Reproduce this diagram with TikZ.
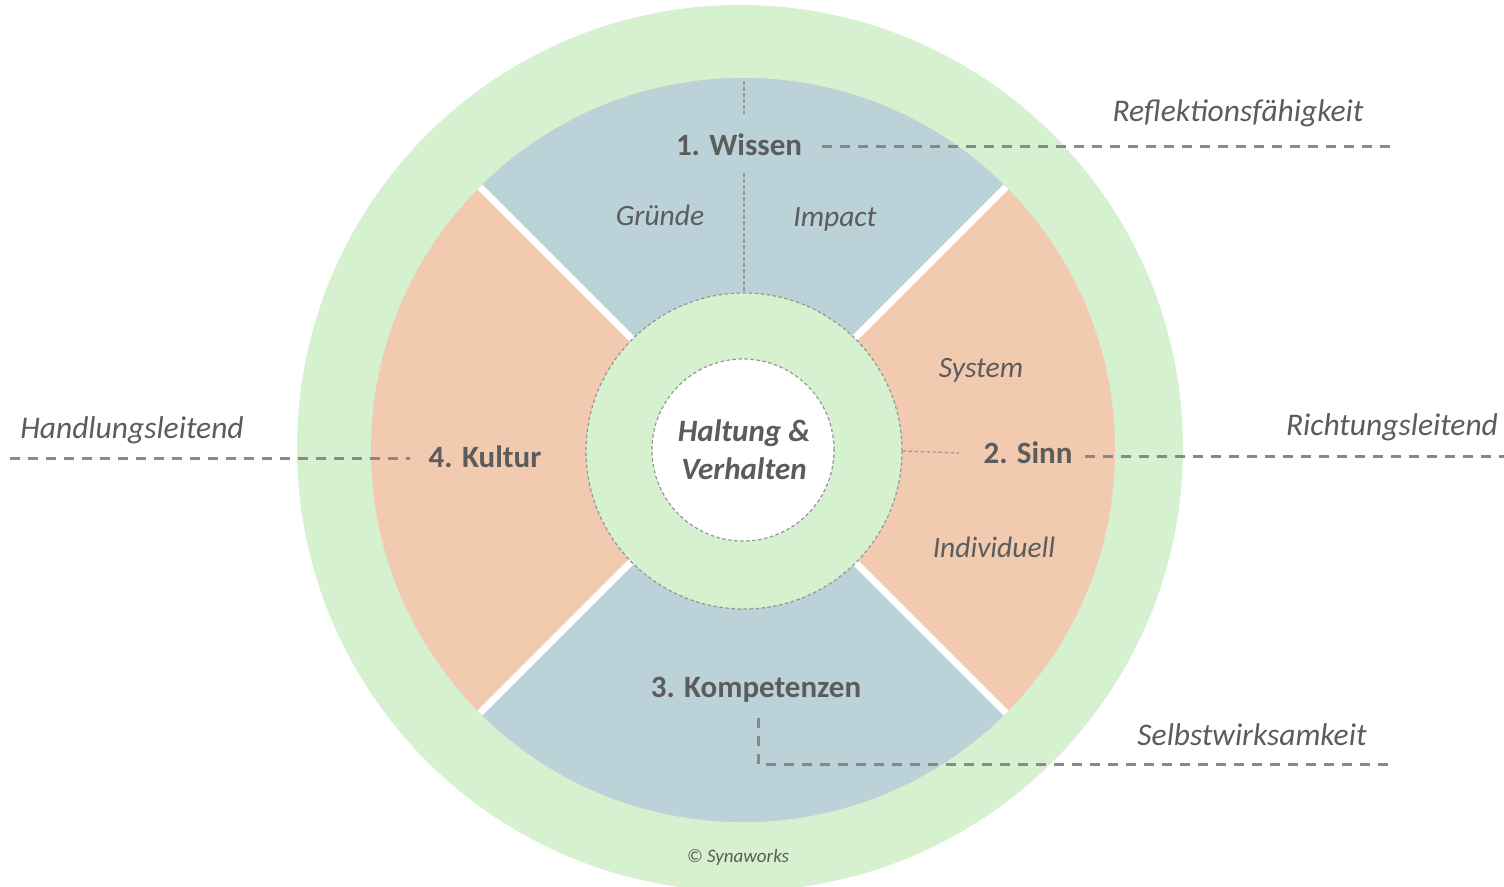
\documentclass[tikz,border=0pt]{standalone}
\usepackage{fontspec}
\setmainfont{Carlito}
\definecolor{ringgreen}{RGB}{213,241,208}
\definecolor{secblue}{RGB}{186,210,216}
\definecolor{secorange}{RGB}{241,202,176}
\definecolor{txt}{RGB}{92,92,92}
\definecolor{lead}{RGB}{137,137,137}
\definecolor{thin}{RGB}{150,150,150}
\begin{document}
\begin{tikzpicture}[x=1pt,y=-1pt,
 head/.style={font=\fontsize{31}{38}\selectfont\bfseries, text=txt, inner sep=0pt},
 sub/.style={font=\fontsize{29.5}{34}\selectfont\itshape, text=txt, inner sep=0pt},
 side/.style={font=\fontsize{31.5}{36}\selectfont\itshape, text=txt, inner sep=0pt},
 leader/.style={draw=lead, line width=3pt, dash pattern=on 10pt off 8pt},
 fine/.style={draw=thin, line width=1.2pt, dash pattern=on 3.5pt off 2.5pt},
]
\useasboundingbox (0,0) rectangle (1504,886);
\clip (0,0) rectangle (1504,886);
\coordinate (c) at (743,450);
% outer ring
\fill[ringgreen] (740,448) circle[radius=443pt];
% sectors
\fill[secorange] (c) circle[radius=372pt];
\begin{scope}
  \clip (c) -- +(-500,-500) -- +(500,-500) -- cycle;
  \fill[secblue] (c) circle[radius=372pt];
\end{scope}
\begin{scope}
  \clip (c) -- +(-500,500) -- +(500,500) -- cycle;
  \fill[secblue] (c) circle[radius=372pt];
\end{scope}
% white gaps
\begin{scope}
  \clip (c) circle[radius=372pt];
  \draw[white, line width=7pt] (443,150) -- (1043,750);
  \draw[white, line width=7pt] (1043,150) -- (443,750);
\end{scope}
% inner rings
\node[circle, fine, fill=ringgreen, minimum size=316pt, inner sep=0pt] (ring) at (744,451) {};
\node[circle, fine, fill=white, minimum size=182pt, inner sep=0pt] (core) at (743,450) {};
\node[font=\fontsize{31}{38}\selectfont\bfseries\itshape, text=txt, align=center, inner sep=0pt] (haltung) at (744,450) {Haltung \&\\Verhalten};

% sector labels
\node[head] (wissen) at (739,145) {1. Wissen};
\node[sub] (gruende) at (660,215) {Gründe};
\node[sub] (impact) at (835,219) {Impact};
\node[sub] (system) at (981,370) {System};
\node[head] (sinn) at (1028,453) {2. Sinn};
\node[sub] (individuell) at (994,547) {Individuell};
\node[head] (kompetenzen) at (756,690) {3. Kompetenzen};
\node[head] (kultur) at (485,457) {4. Kultur};
\node[font=\fontsize{19}{23}\selectfont\itshape, text=txt, inner sep=0pt] (syna) at (738,857) {© Synaworks};

% fine dashed lines
\coordinate (w1a) at (744,81);
\coordinate (w1b) at (744,114);
\coordinate (w2) at (744,173);
\coordinate (s1) at (959,453);
\draw[fine] (w1a) -- (w1b);
\draw[fine] (w2) -- (ring.north);
\draw[fine] (ring.east) -- (s1);

% side labels and leaders
\node[side] (refl) at (1238,113) {Reflektionsfähigkeit};
\node[side] (handl) at (132,430) {Handlungsleitend};
\node[side] (richt) at (1392,427) {Richtungsleitend};
\node[side] (selbst) at (1252,735) {Selbstwirksamkeit};

\coordinate (r1) at (822,146);
\coordinate (r2) at (1392,146);
\coordinate (h1) at (10,458);
\coordinate (h2) at (410,458);
\coordinate (g1) at (1085,456);
\coordinate (g2) at (1504,456);
\coordinate (k1) at (758,718);
\coordinate (k2) at (758,764);
\coordinate (k3) at (1395,764);
\draw[leader] (r1) -- (r2);
\draw[leader] (h1) -- (h2);
\draw[leader] (g1) -- (g2);
\draw[leader] (k1) -- (k2) -- (k3);
\end{tikzpicture}
\end{document}
